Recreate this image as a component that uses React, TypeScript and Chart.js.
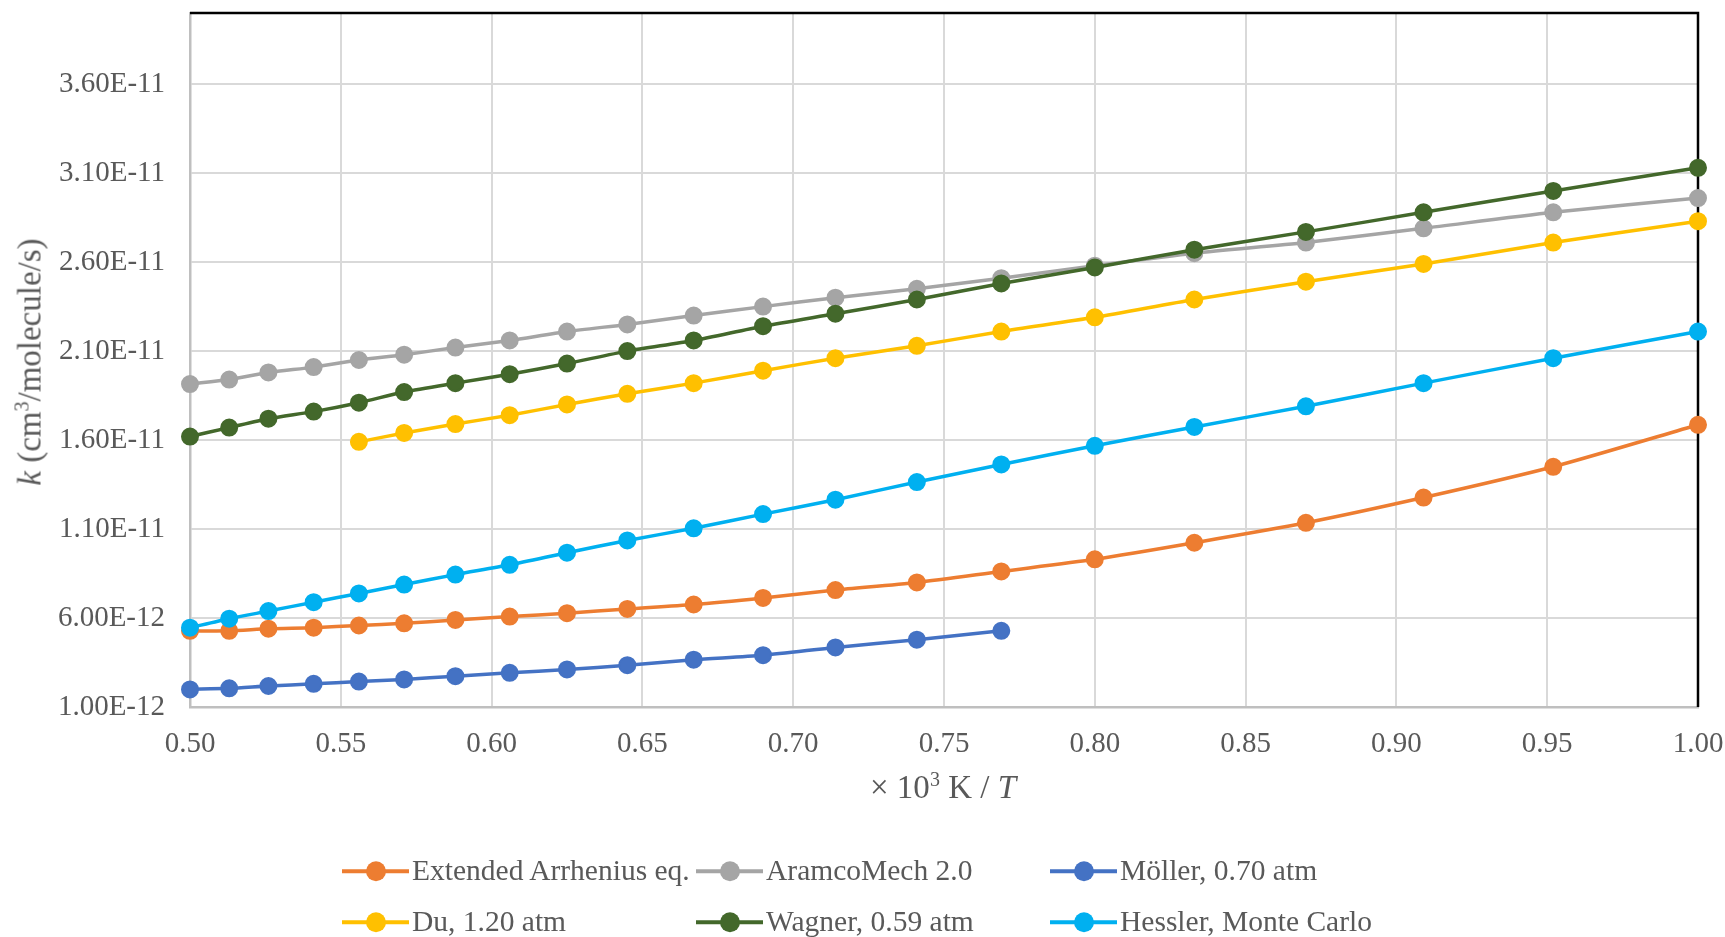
import React, { useEffect, useRef } from "react";
import { Chart, registerables } from "chart.js";

Chart.register(...registerables);

const xValues = [0.5, 0.513, 0.526, 0.541, 0.556, 0.571, 0.588, 0.606, 0.625, 0.645, 0.667, 0.69, 0.714, 0.741, 0.769, 0.8, 0.833, 0.87, 0.909, 0.952, 1.0];

const arrhenius = [5.28e-12, 5.28e-12, 5.4e-12, 5.46e-12, 5.58e-12, 5.7e-12, 5.89e-12, 6.08e-12, 6.27e-12, 6.51e-12, 6.76e-12, 7.13e-12, 7.57e-12, 8.0e-12, 8.62e-12, 9.3e-12, 10.23e-12, 11.35e-12, 12.77e-12, 14.5e-12, 16.86e-12];
const aramco = [19.15e-12, 19.4e-12, 19.8e-12, 20.1e-12, 20.5e-12, 20.8e-12, 21.2e-12, 21.6e-12, 22.1e-12, 22.5e-12, 23.0e-12, 23.5e-12, 24.0e-12, 24.5e-12, 25.1e-12, 25.8e-12, 26.5e-12, 27.1e-12, 27.9e-12, 28.8e-12, 29.6e-12];
const moller = [1.99e-12, 2.05e-12, 2.18e-12, 2.3e-12, 2.43e-12, 2.55e-12, 2.73e-12, 2.92e-12, 3.11e-12, 3.35e-12, 3.66e-12, 3.91e-12, 4.35e-12, 4.78e-12, 5.28e-12, null, null, null, null, null, null];
const du = [null, null, null, null, 15.9e-12, 16.4e-12, 16.9e-12, 17.4e-12, 18.0e-12, 18.6e-12, 19.2e-12, 19.9e-12, 20.6e-12, 21.3e-12, 22.1e-12, 22.9e-12, 23.9e-12, 24.9e-12, 25.9e-12, 27.1e-12, 28.3e-12];
const wagner = [16.2e-12, 16.7e-12, 17.2e-12, 17.6e-12, 18.1e-12, 18.7e-12, 19.2e-12, 19.7e-12, 20.3e-12, 21.0e-12, 21.6e-12, 22.4e-12, 23.1e-12, 23.9e-12, 24.8e-12, 25.7e-12, 26.7e-12, 27.7e-12, 28.8e-12, 30.0e-12, 31.3e-12];
const hessler = [5.46e-12, 5.96e-12, 6.39e-12, 6.89e-12, 7.38e-12, 7.88e-12, 8.44e-12, 8.99e-12, 9.67e-12, 10.36e-12, 11.04e-12, 11.84e-12, 12.65e-12, 13.64e-12, 14.63e-12, 15.68e-12, 16.74e-12, 17.9e-12, 19.2e-12, 20.6e-12, 22.1e-12];

const seriesNames = ["Extended Arrhenius eq.", "AramcoMech 2.0", "Möller, 0.70 atm", "Du, 1.20 atm", "Wagner, 0.59 atm", "Hessler, Monte Carlo"];
const seriesValues = [arrhenius, aramco, moller, du, wagner, hessler];
const seriesColors = ["#ED7D31", "#A5A5A5", "#4472C4", "#FFC000", "#43682B", "#00B0F0"];

const xTicks = [0.5, 0.55, 0.6, 0.65, 0.7, 0.75, 0.8, 0.85, 0.9, 0.95, 1.0];
const yTicks = [1e-12, 6e-12, 1.1e-11, 1.6e-11, 2.1e-11, 2.6e-11, 3.1e-11, 3.6e-11];
const xMin = 0.5;
const xMax = 1.0;
const yMin = 1e-12;
const yMax = 4.0e-11;

const FONT = "'Liberation Serif', 'Times New Roman', serif";
const TEXT = "#595959";

const frame = {
  id: "frame",
  beforeDatasetsDraw(chart: any) {
    const { ctx, chartArea } = chart;
    ctx.save();
    ctx.strokeStyle = "#000000";
    ctx.lineWidth = 2.5;
    ctx.beginPath();
    ctx.moveTo(chartArea.left, chartArea.top);
    ctx.lineTo(chartArea.right, chartArea.top);
    ctx.lineTo(chartArea.right, chartArea.bottom);
    ctx.stroke();
    ctx.restore();
  },
};

const legendCols = [342, 696, 1050];
const legendRows = [871, 922];

export default function App() {
  const ref = useRef<HTMLCanvasElement | null>(null);

  useEffect(() => {
    if (!ref.current) return;
    const n = seriesNames.length;
    const chart = new Chart(ref.current, {
      type: "line",
      data: {
        datasets: seriesNames.map((name, i) => ({
          label: name,
          data: xValues
            .map((x, j) => ({ x, y: seriesValues[i][j] }))
            .filter((p) => p.y !== null) as any,
          borderColor: seriesColors[i],
          backgroundColor: seriesColors[i],
          pointBackgroundColor: seriesColors[i],
          pointBorderColor: seriesColors[i],
          pointRadius: 8,
          pointBorderWidth: 2,
          borderWidth: 3.5,
          tension: 0.25,
          clip: false as any,
          order: n - i,
        })),
      },
      options: {
        animation: false,
        responsive: false,
        layout: { autoPadding: false, padding: { top: 13, right: 27, bottom: 0, left: 0 } },
        plugins: { legend: { display: false }, tooltip: { enabled: false } },
        scales: {
          x: {
            type: "linear",
            min: xMin,
            max: xMax,
            afterBuildTicks: (s: any) => {
              s.ticks = xTicks.map((v) => ({ value: v }));
            },
            afterFit: (s: any) => {
              s.height = 230;
              s.paddingLeft = 0;
              s.paddingRight = 0;
            },
            ticks: {
              callback: (v: any) => Number(v).toFixed(2),
              font: { family: FONT, size: 29 },
              color: TEXT,
              padding: 20,
              maxRotation: 0,
            },
            grid: { color: "#D9D9D9", lineWidth: 2, drawTicks: false },
            border: { color: "#BFBFBF", width: 2.5 },
          },
          y: {
            type: "linear",
            min: yMin,
            max: yMax,
            afterBuildTicks: (s: any) => {
              s.ticks = yTicks.map((v) => ({ value: v }));
            },
            afterFit: (s: any) => {
              s.width = 190;
              s.paddingTop = 0;
              s.paddingBottom = 0;
            },
            ticks: {
              callback: (v: any) => Number(v).toExponential(2).toUpperCase(),
              font: { family: FONT, size: 29 },
              color: TEXT,
              padding: 25,
            },
            grid: { color: "#D9D9D9", lineWidth: 2, drawTicks: false },
            border: { color: "#BFBFBF", width: 2.5 },
          },
        },
      },
      plugins: [frame],
    });
    return () => chart.destroy();
  }, []);

  return (
    <div
      style={{
        position: "fixed",
        left: 0,
        top: 0,
        width: 1725,
        height: 937,
        background: "#ffffff",
        fontFamily: FONT,
        color: TEXT,
        overflow: "hidden",
      }}
    >
      <canvas ref={ref} width={1725} height={937} style={{ position: "absolute", left: 0, top: 0, width: 1725, height: 937 }} />
      <div
        style={{
          position: "absolute",
          left: 30,
          top: 362,
          transform: "translate(-50%, -50%) rotate(-90deg)",
          whiteSpace: "nowrap",
          fontSize: 33,
          lineHeight: 1,
        }}
      >
        <i>k</i> (cm<span style={{ fontSize: 20, position: "relative", top: -12 }}>3</span>/molecule/s)
      </div>
      <div
        style={{
          position: "absolute",
          left: 943,
          top: 787,
          transform: "translate(-50%, -50%)",
          whiteSpace: "nowrap",
          fontSize: 33,
          lineHeight: 1,
        }}
      >
        × 10<span style={{ fontSize: 20, position: "relative", top: -12 }}>3</span> K / <i>T</i>
      </div>
      {seriesNames.map((name, i) => (
        <div
          key={name}
          style={{
            position: "absolute",
            left: legendCols[i % 3],
            top: legendRows[Math.floor(i / 3)],
            transform: "translateY(-50%)",
            display: "flex",
            alignItems: "center",
            whiteSpace: "nowrap",
            fontSize: 29.5,
            lineHeight: 1,
          }}
        >
          <div style={{ position: "relative", width: 67, height: 20 }}>
            <div style={{ position: "absolute", left: 0, right: 0, top: 8, height: 4, background: seriesColors[i] }} />
            <div
              style={{
                position: "absolute",
                left: 24,
                top: 0,
                width: 20,
                height: 20,
                borderRadius: "50%",
                background: seriesColors[i],
              }}
            />
          </div>
          <span style={{ marginLeft: 3 }}>{name}</span>
        </div>
      ))}
    </div>
  );
}
